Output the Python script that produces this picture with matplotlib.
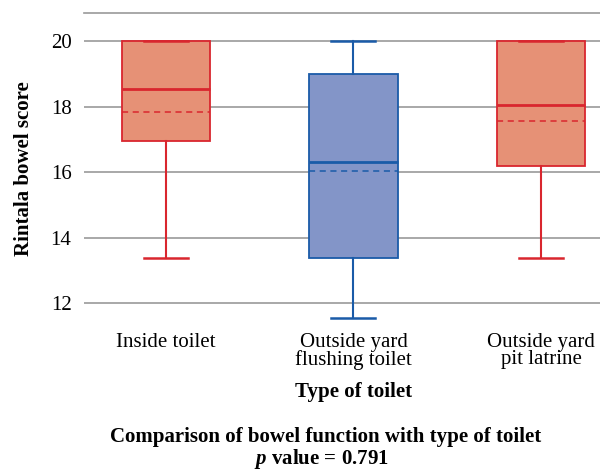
import matplotlib.pyplot as plt

plt.rcParams['font.family'] = ['Liberation Serif', 'DejaVu Serif']
plt.rcParams['mathtext.fontset'] = 'custom'
plt.rcParams['mathtext.rm'] = 'Liberation Serif'
plt.rcParams['mathtext.it'] = 'Liberation Serif:italic'
plt.rcParams['mathtext.bf'] = 'Liberation Serif:bold'
plt.rcParams['mathtext.bfit'] = 'Liberation Serif:italic:bold'

# Data
categories = ["Inside toilet", "Outside yard\nflushing toilet", "Outside yard\npit latrine"]
whislo = [13.4, 11.55, 13.4]
q1 = [16.95, 13.4, 16.2]
median = [18.55, 16.3, 18.05]
mean = [17.85, 16.05, 17.55]
q3 = [20.0, 19.0, 20.0]
whishi = [20.0, 20.0, 20.0]

fills = ["#E69176", "#8395C8", "#E69176"]
edges = ["#D9262E", "#1A5BA8", "#D9262E"]

stats = []
for i in range(len(categories)):
    stats.append({"whislo": whislo[i], "q1": q1[i], "med": median[i], "mean": mean[i],
                  "q3": q3[i], "whishi": whishi[i], "fliers": [], "label": categories[i]})

fs = 15
fig = plt.figure(figsize=(6, 4.71), dpi=100)
ax = fig.add_axes([0.14, 0.314, 0.86, 0.658])

for i, s in enumerate(stats):
    c = edges[i]
    ax.bxp([s], positions=[i], widths=0.47, capwidths=0.235, patch_artist=True,
           showmeans=True, meanline=True, showfliers=False,
           boxprops=dict(facecolor=fills[i], edgecolor=c, linewidth=1.3),
           medianprops=dict(color=c, linewidth=2),
           meanprops=dict(color=c, linestyle=(0, (4, 3)), linewidth=1.1),
           whiskerprops=dict(color=c, linewidth=1.5),
           capprops=dict(color=c, linewidth=1.8),
           zorder=3)

ax.set_xlim(-0.436, 2.314)
ax.set_ylim(11.4, 20.85)
ax.set_yticks([12, 14, 16, 18, 20])
ax.set_xticks(range(len(categories)))
ax.set_xticklabels(categories, fontsize=fs, linespacing=0.9)
ax.tick_params(axis='both', length=0, labelsize=fs)
ax.tick_params(axis='y', pad=9)
ax.tick_params(axis='x', pad=7)
ax.yaxis.grid(True, color="#999999", linewidth=1.2, zorder=0)
ax.set_axisbelow(True)
for side in ["left", "right", "bottom"]:
    ax.spines[side].set_visible(False)
ax.spines["top"].set_color("#999999")
ax.spines["top"].set_linewidth(1.2)

ax.set_ylabel("Rintala bowel score", fontsize=fs, fontweight="bold")
ax.yaxis.set_label_coords(-0.097, 0.5)
ax.set_xlabel("Type of toilet", fontsize=fs, fontweight="bold")
ax.xaxis.set_label_coords(0.522, -0.19)

fig.text(0.543, 0.072, "Comparison of bowel function with type of toilet",
         ha="center", va="center", fontsize=fs, fontweight="bold")
fig.text(0.535, 0.026, "$\\mathbfit{p}$ value = 0.791", ha="center", va="center",
         fontsize=fs, fontweight="bold")

fig.savefig("out.png", dpi=100)
